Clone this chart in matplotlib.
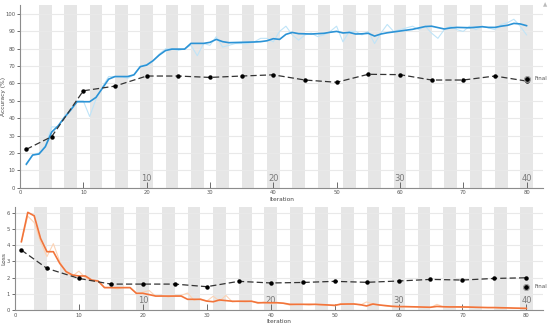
import numpy as np
import matplotlib
matplotlib.use('Agg')
import matplotlib.pyplot as plt

# iterations 1..80
iters = list(range(1, 81))

acc_smooth = [13.6, 18.8, 19.4, 23.6, 32.0, 35.5, 40.3, 44.7, 49.5, 49.5,
              49.5, 52.0, 57.2, 62.5, 64.0, 64.0, 64.0, 65.0, 69.7, 70.6,
              73.1, 76.4, 79.0, 79.8, 79.8, 79.8, 83.1, 83.1, 83.1, 83.7,
              85.4, 84.1, 83.5, 83.6, 83.7, 83.8, 83.9, 84.1, 84.6, 85.8,
              85.4, 88.3, 89.4, 88.7, 88.6, 88.5, 88.7, 88.9, 89.5, 90.0,
              89.1, 89.4, 88.5, 88.6, 88.9, 87.3, 88.5, 89.2, 89.7, 90.2,
              90.7, 91.2, 92.0, 92.8, 93.0, 92.2, 91.4, 92.0, 92.3, 92.2,
              92.1, 92.4, 92.7, 92.3, 92.3, 93.0, 93.5, 94.6, 94.3, 93.3]

acc_raw = [13, 19, 20, 24, 35, 35, 41, 45, 50, 50,
           41, 51, 58, 64, 64, 64, 63, 65, 70, 71,
           73, 77, 80, 80, 79, 80, 82, 76, 83, 82,
           87, 81, 82, 83, 83, 83, 84, 86, 86, 84,
           90, 93, 88, 85, 88, 89, 87, 88, 90, 93,
           84, 90, 90, 88, 90, 83, 89, 94, 90, 91,
           92, 93, 91, 93, 89, 86, 91, 93, 91, 90,
           93, 91, 93, 92, 91, 94, 95, 97, 93, 88]

loss_smooth = [4.22, 6.03, 5.82, 4.42, 3.60, 3.60, 2.88, 2.37, 2.16, 2.10,
               2.10, 1.85, 1.79, 1.38, 1.38, 1.38, 1.38, 1.38, 1.03, 1.03,
               0.95, 0.86, 0.86, 0.86, 0.86, 0.86, 0.66, 0.66, 0.66, 0.55,
               0.51, 0.62, 0.58, 0.54, 0.54, 0.54, 0.54, 0.45, 0.45, 0.45,
               0.45, 0.42, 0.35, 0.35, 0.35, 0.35, 0.35, 0.33, 0.31, 0.29,
               0.36, 0.37, 0.37, 0.33, 0.25, 0.37, 0.31, 0.27, 0.23, 0.21,
               0.21, 0.20, 0.19, 0.18, 0.17, 0.22, 0.20, 0.19, 0.19, 0.19,
               0.18, 0.17, 0.16, 0.15, 0.15, 0.14, 0.13, 0.12, 0.11, 0.10]

loss_raw = [4.2, 5.8, 5.4, 4.2, 3.3, 4.1, 3.0, 2.3, 2.1, 2.4,
            2.0, 1.8, 1.8, 1.4, 1.4, 1.3, 1.4, 1.4, 1.0, 1.1,
            1.2, 0.85, 0.9, 0.8, 0.9, 0.9, 1.05, 0.6, 0.7, 0.55,
            0.85, 0.55, 0.9, 0.5, 0.55, 0.5, 0.55, 0.4, 0.5, 0.4,
            0.45, 0.4, 0.3, 0.35, 0.35, 0.3, 0.35, 0.3, 0.3, 0.25,
            0.4, 0.35, 0.4, 0.3, 0.5, 0.35, 0.3, 0.25, 0.2, 0.2,
            0.2, 0.2, 0.2, 0.15, 0.15, 0.35, 0.2, 0.2, 0.2, 0.15,
            0.2, 0.15, 0.15, 0.15, 0.15, 0.1, 0.15, 0.1, 0.1, 0.1]

val_iters = [1, 5, 10, 15, 20, 25, 30, 35, 40, 45, 50, 55, 60, 65, 70, 75, 80]
val_acc = [22.1, 29.4, 55.8, 58.5, 64.3, 64.3, 63.5, 64.3, 65.0, 62.0,
           60.7, 65.3, 65.1, 62.0, 62.0, 64.3, 61.4]
val_loss = [3.70, 2.57, 1.95, 1.60, 1.60, 1.60, 1.44, 1.77, 1.67, 1.70,
            1.77, 1.71, 1.79, 1.89, 1.85, 1.95, 1.99]
final_acc = 62.8
final_loss = 1.44

epoch_labels = ['10', '20', '30', '40']
epoch_iters = [20, 40, 60, 80]

W, H = 550, 327
fig = plt.figure(figsize=(5.5, 3.27), dpi=100)

def px(x0, y0, x1, y1):
    return [x0 / W, 1 - y1 / H, (x1 - x0) / W, (y1 - y0) / H]

ax1 = fig.add_axes(px(20, 5, 543, 187.7))
ax2 = fig.add_axes(px(15, 206.7, 543, 310))

def style(ax, ylim, yticks):
    ax.set_xlim(0, 82.6)
    ax.set_ylim(*ylim)
    # epoch shading
    for s in range(3, 81, 4):
        ax.axvspan(s, s + 2, color='#e6e6e6', lw=0, zorder=0)
    for y in yticks:
        ax.axhline(y, color='#e9e9e9', lw=0.8, zorder=0.5)
    for sp in ['top', 'right']:
        ax.spines[sp].set_visible(False)
    for sp in ['left', 'bottom']:
        ax.spines[sp].set_color('#8c8c8c')
        ax.spines[sp].set_linewidth(0.8)
    ax.set_yticks(yticks)
    ax.set_xticks(range(0, 81, 10))
    ax.tick_params(axis='x', direction='in', length=4, labelsize=3.8,
                   colors='#555555', pad=2, width=0.6)
    ax.tick_params(axis='y', direction='out', length=2, labelsize=3.8,
                   colors='#555555', pad=1.5, width=0.6)
    for lab, it in zip(epoch_labels, epoch_iters):
        ax.annotate(lab, xy=(it, 0), xycoords=('data', 'axes fraction'),
                    xytext=(0, 3.5), textcoords='offset points',
                    ha='center', va='bottom', fontsize=6, color='#7a7a7a')
    ax.set_xlabel('Iteration', fontsize=4.2, color='#444444', labelpad=1)

style(ax1, (0, 105.2), range(0, 101, 10))
style(ax2, (0, 6.38), range(0, 7))

dash = (0, (5, 2.5))
ax1.plot(iters, acc_raw, color='#bfe4f8', lw=0.8, zorder=2)
ax1.plot(iters, acc_smooth, color='#2b93d6', lw=1.2, zorder=3)
ax1.plot(val_iters, val_acc, color='#333333', lw=0.9, ls=dash,
         marker='o', ms=2.2, mfc='black', mec='black', zorder=4)
ax1.plot([80], [final_acc], marker='o', ms=4.5, mfc='#c8c8c8', mec='#888888',
         mew=0.5, zorder=5)
ax1.plot([80], [final_acc], marker='o', ms=2.4, color='black', zorder=6)
ax1.text(81.2, final_acc, 'Final', fontsize=4, color='#555555', va='center')
ax1.set_ylabel('Accuracy (%)', fontsize=4.2, color='#444444')
ax1.yaxis.set_label_coords(-0.026, 0.5)

ax2.plot(iters, loss_raw, color='#fcd3b5', lw=0.8, zorder=2)
ax2.plot(iters, loss_smooth, color='#f2743a', lw=1.2, zorder=3)
ax2.plot(val_iters, val_loss, color='#333333', lw=0.9, ls=dash,
         marker='o', ms=2.2, mfc='black', mec='black', zorder=4)
ax2.plot([80], [final_loss], marker='o', ms=4.5, mfc='#c8c8c8', mec='#888888',
         mew=0.5, zorder=5)
ax2.plot([80], [final_loss], marker='o', ms=2.4, color='black', zorder=6)
ax2.text(81.2, final_loss, 'Final', fontsize=4, color='#555555', va='center')
ax2.set_ylabel('Loss', fontsize=4.2, color='#444444')
ax2.yaxis.set_label_coords(-0.016, 0.5)

fig.text(545 / W, 1 - 5 / H, '\u25b2', fontsize=4, color='#bbbbbb',
         ha='center', va='center')

fig.savefig('out.png', dpi=100)
